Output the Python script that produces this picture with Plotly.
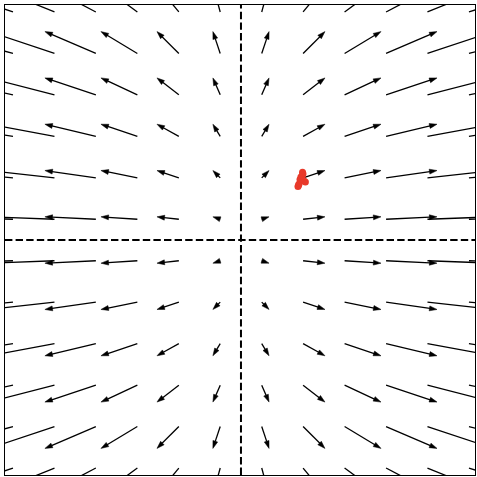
import plotly.graph_objects as go

# Grid positions of arrow tails (data units)
col_x = [-2.0, -1.636, -1.273, -0.909, -0.545, -0.182, 0.182, 0.545, 0.909, 1.273, 1.636, 2.0]
row_y = [2.0, 1.636, 1.273, 0.909, 0.545, 0.182, -0.182, -0.545, -0.909, -1.273, -1.636, -2.0]

# Vector components: U depends on column, V on row
u_by_col = [-6.0, -4.91, -3.82, -2.73, -1.64, -0.55, 0.55, 1.64, 2.73, 3.82, 4.91, 6.0]
v_by_row = [2.0, 1.64, 1.27, 0.91, 0.55, 0.18, -0.18, -0.55, -0.91, -1.27, -1.64, -2.0]

# Red cluster of points near one grid node
red_x = [0.509, 0.526, 0.544, 0.553, 0.565, 0.500, 0.518, 0.535, 0.505, 0.540]
red_y = [0.491, 0.553, 0.579, 0.518, 0.509, 0.470, 0.530, 0.560, 0.480, 0.595]

arrow_scale = 0.117

xs, ys, sizes = [], [], []
for j, yv in enumerate(row_y):
    for i, xv in enumerate(col_x):
        hx = xv + u_by_col[i] * arrow_scale
        hy = yv + v_by_row[j] * arrow_scale
        xs += [xv, hx, None]
        ys += [yv, hy, None]
        sizes += [0, 8, 0]

fig = go.Figure()
fig.add_trace(go.Scatter(
    x=xs, y=ys, mode="lines+markers",
    line=dict(color="black", width=1.3),
    marker=dict(symbol="arrow", angleref="previous", size=sizes,
                color="black", opacity=1, line=dict(width=0.5, color="black")),
    hoverinfo="skip", showlegend=False,
))
fig.add_trace(go.Scatter(
    x=red_x, y=red_y, mode="markers",
    marker=dict(color="#e8392a", size=7, line=dict(width=0)),
    hoverinfo="skip", showlegend=False,
))

dash = "7.4px,3.2px"
fig.add_shape(type="line", x0=0, x1=0, xref="x", y0=0, y1=1, yref="y domain",
              line=dict(color="black", width=2, dash=dash))
fig.add_shape(type="line", y0=0, y1=0, yref="y", x0=0, x1=1, xref="x domain",
              line=dict(color="black", width=2, dash=dash))

axis_common = dict(showgrid=False, zeroline=False, showticklabels=False, ticks="",
                   showline=True, mirror=True, linecolor="black", linewidth=1)
fig.update_layout(
    width=477, height=477,
    margin=dict(l=5, r=2, t=5, b=2),
    plot_bgcolor="white", paper_bgcolor="white",
    showlegend=False,
    xaxis=dict(range=[-2.07, 2.053], **axis_common),
    yaxis=dict(range=[-2.061, 2.061], **axis_common),
)
fig.write_html("out.html", config={"displayModeBar": False},
               post_script="document.body.style.margin='0px';")
